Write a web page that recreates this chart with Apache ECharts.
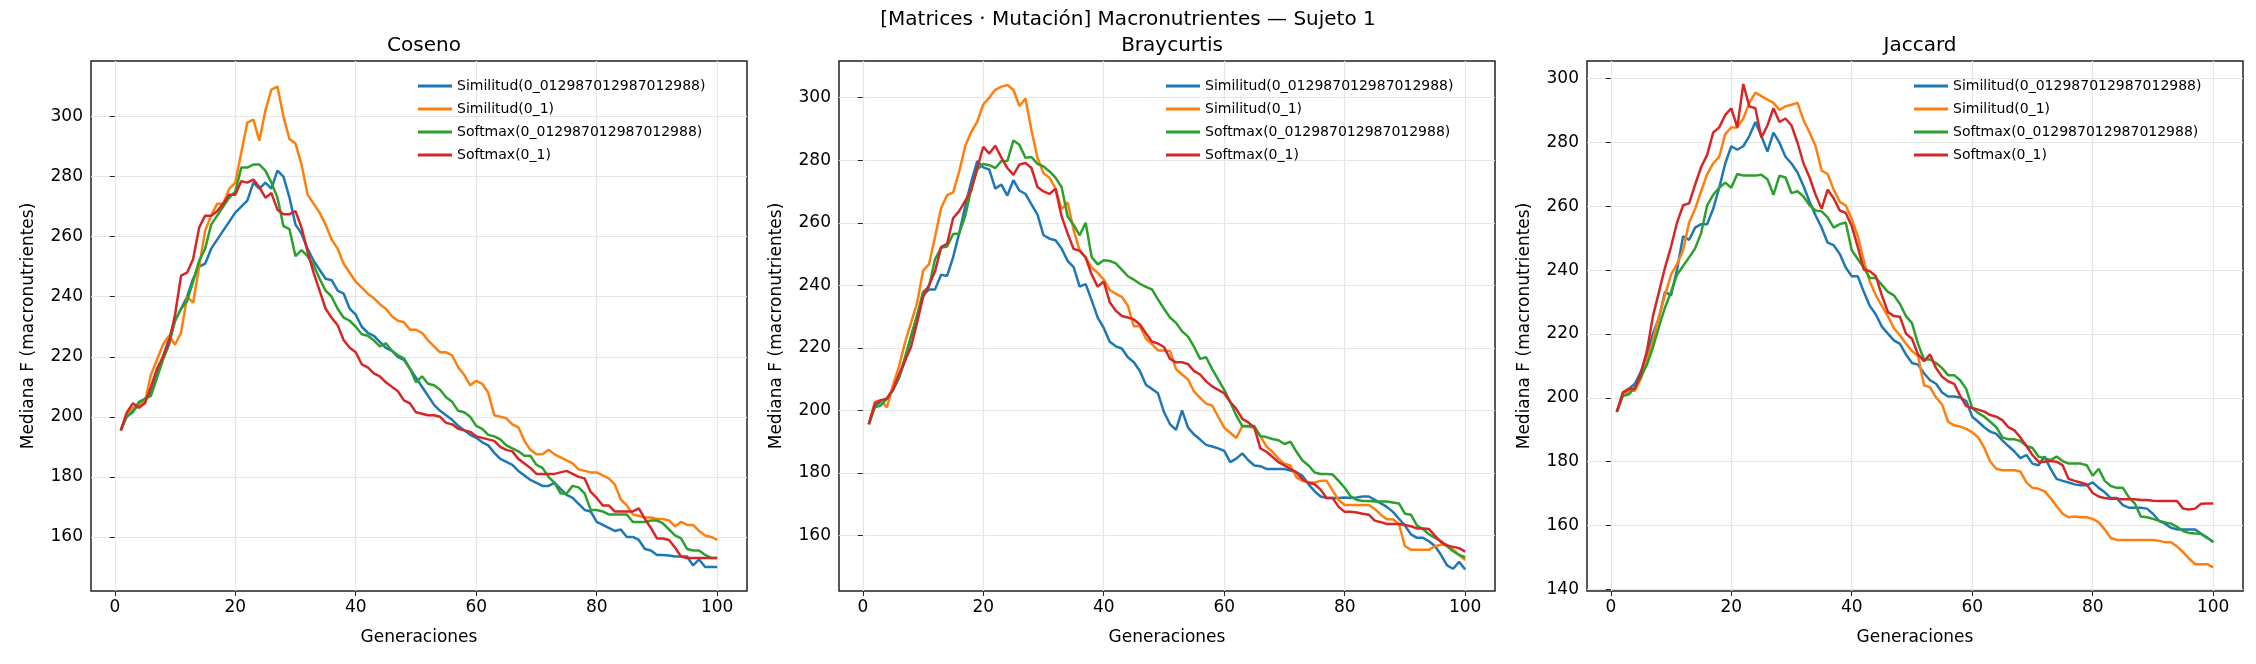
<!DOCTYPE html>
<html>
<head>
<meta charset="utf-8">
<script src="https://cdn.jsdelivr.net/npm/echarts@6/dist/echarts.min.js"></script>
<style>html,body{margin:0;padding:0;background:#fff}#myChart{width:2256px;height:664px}</style>
</head>
<body>
<div id="myChart"></div>
<script>
var gens = [];
for (var i = 1; i <= 100; i++) gens.push(i);

var seriesNames = ['Similitud(0_012987012987012988)', 'Similitud(0_1)', 'Softmax(0_012987012987012988)', 'Softmax(0_1)'];
var colors = ['#1f77b4', '#ff7f0e', '#2ca02c', '#d62728'];
var panelTitles = ['Coseno', 'Braycurtis', 'Jaccard'];
var xTicks = [0, 20, 40, 60, 80, 100];
var yTicksByPanel = [
	[160, 180, 200, 220, 240, 260, 280, 300],
	[160, 180, 200, 220, 240, 260, 280, 300],
	[140, 160, 180, 200, 220, 240, 260, 280, 300]
];

// Coseno
var cosSim013 = [195.5,201,202,204,206,208,214,220,226,232,236,240,246,250,251,256,259,262,265,268,270,272,278,276,278,276,282,280,273,264,261,256,252,249,246,245.5,242,241,236,234,230,228,227,225,223,222,220,219,216,213,210,207,204,202,200.5,199,197,195.5,194,193,191.5,190.5,188,186,185,184,182,180.5,179,178,177,177,178,176,174,173,171,169,168.5,165,164,163,162,162.5,160,160,159,156,155.5,154,154,153.8,153.5,153.5,153.5,150.5,152.5,150,150,150];
var cosSim01 = [195.5,201,203,204,205,214,219,224,227,224,228,240,238,250,262,267,271,271,276,278,288,298,299,292,302,309,310,300,292.5,291,284,274,271,268,264,259,256,251,248,245,243,241,239.5,237.5,236,233.5,232,231.5,229,229,228,225.5,223.5,221.5,221.5,220.5,216.5,214,210.5,212,211,208,200.5,200,199.5,197.5,196.5,192,189,187.5,187.5,189,187.5,186.5,185.5,184.5,182.5,182,181.5,181.5,180.5,179.5,177.5,172.5,170.5,167.5,167,166.5,166.5,166,166,165.5,163.5,165,164,164,162,160.5,160,159];
var cosSoft013 = [195.5,200,201.5,205,206,207,213,219,224,232,236,238.5,245,252,256,264,267,270,273,275,283,283,284,284,282,278,273,263.5,262.5,253.5,255.5,253.5,250.5,246,242,240,236,233,232,230,227.5,227,225.5,223.5,224.5,222,220.5,219.5,216,211.5,213.5,211,210.5,209,206.5,205,202,201.5,200,197,196,194,193.5,192.5,190.5,189.5,188.5,187,187,184,183,180,178,174.5,174.5,177,176.5,174.5,169,169,168.5,167.5,167.5,167.5,167.5,165,165,165,165.5,165.5,164.5,162.5,160.5,159.5,156,155.5,155.5,154,153,153];
var cosSoft01 = [195.5,201.5,204.5,203,204.5,210,216,220,225,234,247,248,252.5,263,267,267,268.5,271,274,274,278.5,278,279,276.5,273,274.5,269,267.5,267.5,268.5,263,255,248,242,236,233,230.5,225.5,223,221.5,217.5,216.5,214.5,213.5,211.5,210,208.5,205.5,204.5,201.5,201,200.5,200.5,200,198,197.5,196,195.5,195,193.5,193,192.5,192,190,189,188.5,186,184.5,183,181,181,181,181,181.5,182,181,180,179.5,175,173,170.5,170.5,168.5,168.5,168.5,168.5,169.5,166,163,159.5,159.5,159,156.5,153.5,153,153,153,153,153,153];

// Braycurtis
var braySim013 = [195.6,201.6,202.7,203.8,206.6,210.4,215.9,223.6,230.2,236.8,238.7,238.7,243.4,243,249,256.6,265.3,273.1,279.7,277.7,277,270.9,272.2,268.7,273.6,270.3,269.2,265.9,262.6,256,254.9,254.4,251.8,247.8,245.8,239.6,240.4,235.2,229.7,226.4,222,220.5,219.8,217,215.4,212.6,208.2,206.9,205.5,199.5,195.6,193.8,200,194.5,192.3,190.7,189,188.5,187.9,187.1,183.5,184.6,186.3,184.1,182.4,182.2,181.3,181.3,181.3,181.3,180.8,180.2,179.1,176.4,174.2,172.5,172,172,172,172.2,172,172.2,172.5,172.5,171.4,170.3,169.2,167.6,165.4,163.2,160.4,159.3,159.3,158.2,156.6,153.8,150.5,149.4,151.6,149.2];
var braySim01 = [195.6,202.7,203.3,201,208,214,221.6,228,234.2,244.6,246.8,255.5,264.7,268.8,269.7,276.3,284.5,289,292.3,297.8,300,302.5,303.5,304,302.5,297.3,299.7,289.6,280.8,275.8,274.4,270.9,264.3,266.5,257.7,251.1,248.9,245.6,244,241.8,238.5,237.3,236.3,233.5,226.9,226.9,223,221.2,219.2,219.2,219,213.2,211.5,209.9,206,204,202.2,201.6,198,194.5,192.9,191.2,195,194.8,194.5,191.8,188.5,186.8,184.6,183,182.4,178.6,177.5,177,177,177.5,177.5,174.4,171.4,169.8,169.8,169.8,169.8,169.8,168.5,166.7,165.2,165.2,163.7,156.6,155.5,155.5,155.5,155.5,156.6,157.1,157.1,155.5,153.8,152.2];
var braySoft013 = [195.6,201,201.6,203.8,206.6,210.4,217,223.6,230.2,237.9,239.6,248.4,252,252.4,256.4,256.6,262.1,270.9,277,278.8,278.4,277.5,279.7,279.7,286.3,284.9,280.8,281,278.8,278,276.4,274.4,271.4,262,259.3,256,260,249,246.7,248,247.8,247,245,242.9,241.8,240.5,239.5,238.7,235.5,232.5,229.7,228,225.3,223.6,220.3,216.5,217,213.2,209.9,206.6,202.7,198.4,195,195,195,191.8,191.5,190.9,190.5,189.3,190,186.8,184,182.4,180.2,179.7,179.7,179.5,177.5,175.3,172.5,171.4,171.1,171.1,170.9,170.9,170.9,170.6,170.3,167,166.7,163.2,162.1,160.4,159.3,158.2,156.6,155,153.8,153.1];
var braySoft01 = [195.6,202.2,203.3,203.8,206.6,211.5,215.9,220.3,228,236.3,240.1,244.5,252.2,253.3,261.5,263.7,267,270.3,277.5,284.3,282.1,284.6,280.8,277.5,275.3,278.6,279.1,277.5,271.4,270,269.2,270.9,262.1,256.6,251.6,251.1,248.9,243.4,239.6,241.2,234.6,231.9,230.2,229.7,229.1,227.5,224.7,222,221.4,220.3,216.5,215.4,215.4,214.8,212.6,211.5,209.3,207.7,206.6,205.5,202.7,200.5,197.3,196.2,194.5,187.9,186.8,185.2,183.5,182.4,181.3,180.2,178,176.9,176.4,174.7,172,172,169.2,167.6,167.6,167.4,167,166.7,164.8,164.3,163.7,163.7,163.7,163.4,163,162.3,162.3,162.1,159.9,157.9,156.8,156.4,156,154.9];

// Jaccard
var jacSim013 = [195.6,201.1,202.8,204.4,208.2,213.6,220.1,225,233.2,232.1,240.2,250.6,249.5,253.3,254.4,254.4,259.2,265.8,273.4,278.8,277.7,278.8,282,286.4,282,277.1,283.1,279.9,275.5,273.4,270.6,266.3,261.4,257.1,253.3,248.6,247.8,245.1,240.8,238.1,238.1,233.2,228.8,226.1,222.3,220.1,218,216.9,213.6,210.9,210.4,207.7,205.5,204.4,201.7,200.4,200.4,200.1,199,194.1,192.5,190.8,189.4,188.7,186.7,184.9,183.2,181.1,182.1,179.4,178.9,181.6,177.8,174.6,174,173.5,172.9,172.6,172.6,173.5,171.8,170.4,168.6,168.6,166.4,165.6,165.6,165.6,165.3,163.7,161.5,160.6,159.3,158.8,158.8,158.8,158.8,157.4,156.1,155];
var jacSim01 = [195.6,200.6,202.2,202.2,206,211.5,218,225.6,232.1,238.6,241.9,246.2,254.9,259.2,264.7,270.1,273.4,275.5,282.6,284.7,284.7,287.5,292.4,295.6,294.5,293.4,292.4,290.2,291.3,291.8,292.4,286.9,283.1,278.8,271.2,270.1,265.2,261.4,260.3,256,250.6,243,236.4,232.1,228.8,225.6,221.8,219.6,216.9,214.7,213.1,203.9,203.3,200.1,197.9,192.5,191.4,191,190.3,189.2,187.6,184.3,180,177.8,177.3,177.3,177.3,176.9,173.5,171.8,171.5,170.8,168.6,166.1,163.7,162.6,162.8,162.6,162.6,162.1,161,158.8,156.1,155.5,155.5,155.5,155.5,155.5,155.5,155.5,155.2,154.8,154.8,153.4,151.7,149.6,147.9,147.9,147.9,146.9];
var jacSoft013 = [195.6,200.6,201.1,203.3,206.6,210.4,215.8,222.3,228.3,233.2,238.6,241.3,244,246.8,251.6,260.3,263.6,265.8,267.4,265.8,270.1,269.6,269.6,269.6,269.9,268.5,263.6,269.6,269,264.1,264.7,263,260.3,258.7,258.4,256.5,253.3,254.4,254.9,246.2,243.5,240.8,237.5,237.5,235.4,233.2,232.1,229.4,225.6,223.4,216.9,212,212,210.9,209.3,207.1,207.1,205.5,202.8,196.8,195.2,194.1,192.5,190.8,187.6,187,187,186.5,184.9,184.3,181.6,181.1,180.5,181.6,180.2,179.4,179.4,179.4,178.9,175.6,177.8,174,172.4,171.8,171.8,168.9,166.9,162.8,162.6,162.1,161.5,161,160.6,159.6,158.3,157.7,157.5,157.4,156.3,154.8];
var jacSoft01 = [195.6,201.7,202.8,202.8,207.7,214.7,225.6,233.2,240.8,247.3,254.9,260.3,260.9,266.8,272.3,276.1,283.1,284.7,288.6,290.7,284.7,298.3,291.3,290.7,281.5,285.3,290.7,286.4,287.5,285.3,279.9,273.4,269,263.6,259.2,265.2,262.5,258.7,257.9,253.8,247.3,240.2,239.7,238.1,232.1,226.9,225.6,225.4,220.1,218.5,213.6,211.5,213.6,209.3,206.6,205.2,204.4,200.6,197.4,196.8,196.3,195.7,194.6,194.1,193,190.8,189.8,187.6,184.9,182.1,180,180,180.2,180,178.9,174.6,174,173.5,172.9,170.2,169.1,168.6,168.4,168.4,168.2,168.2,168.2,168,168,167.8,167.7,167.7,167.7,167.7,165.3,165,165.3,166.8,166.9,166.9];

var panelData = [
	[cosSim013, cosSim01, cosSoft013, cosSoft01],
	[braySim013, braySim01, braySoft013, braySoft01],
	[jacSim013, jacSim01, jacSoft013, jacSoft01]
];
var yRanges = [[142, 318.5], [142.3, 311.7], [139.5, 305.5]];

var font = 'DejaVu Sans';
var panelLeft = [91, 839, 1587];
var panelWidth = 656;
var panelTop = 61;
var panelHeight = 530;

var grids = [], xAxes = [], yAxes = [], series = [], legends = [], titles = [];
titles.push({
	text: '[Matrices · Mutación] Macronutrientes — Sujeto 1',
	left: 'center', top: 5,
	textStyle: {fontFamily: font, fontSize: 20, fontWeight: 'normal', color: '#000'}
});
for (var p = 0; p < 3; p++) {
	grids.push({left: panelLeft[p], top: panelTop, width: panelWidth, height: panelHeight,
		show: true, borderColor: '#222', borderWidth: 1.5, backgroundColor: 'transparent'});
	titles.push({
		text: panelTitles[p], left: panelLeft[p] + panelWidth / 2, top: 31, textAlign: 'center',
		textStyle: {fontFamily: font, fontSize: 20, fontWeight: 'normal', color: '#000'}
	});
	xAxes.push({
		type: 'value', gridIndex: p, min: -3.95, max: 104.95,
		name: 'Generaciones', nameLocation: 'middle', nameGap: 38,
		nameTextStyle: {fontFamily: font, fontSize: 17, color: '#000'},
		axisLine: {show: false},
		axisTick: {show: true, length: 5, customValues: xTicks, lineStyle: {color: '#222'}},
		axisLabel: {customValues: xTicks, fontFamily: font, fontSize: 17, color: '#000', margin: 8},
		splitLine: {show: true, lineStyle: {color: '#e6e6e6', width: 1.2}}
	});
	yAxes.push({
		type: 'value', gridIndex: p, min: yRanges[p][0], max: yRanges[p][1],
		name: 'Mediana F (macronutrientes)', nameLocation: 'middle', nameGap: 54,
		nameTextStyle: {fontFamily: font, fontSize: 17, color: '#000'},
		axisLine: {show: false},
		axisTick: {show: true, length: 5, customValues: yTicksByPanel[p], lineStyle: {color: '#222'}},
		axisLabel: {customValues: yTicksByPanel[p], fontFamily: font, fontSize: 17, color: '#000', margin: 8},
		splitLine: {show: true, lineStyle: {color: '#e6e6e6', width: 1.2}}
	});
	for (var s = 0; s < 4; s++) {
		var vals = panelData[p][s];
		series.push({
			type: 'line', name: seriesNames[s], xAxisIndex: p, yAxisIndex: p,
			showSymbol: false, animation: false,
			lineStyle: {color: colors[s], width: 2.5}, itemStyle: {color: colors[s]},
			data: vals.map(function (v, k) { return [gens[k], v]; })
		});
	}
	legends.push({
		orient: 'vertical', left: panelLeft[p] + 322, top: 74,
		itemWidth: 34, itemHeight: 3, itemGap: 9, icon: 'rect',
		textStyle: {fontFamily: font, fontSize: 14, color: '#000'},
		data: seriesNames
	});
}

var option = {
	backgroundColor: '#fff',
	animation: false,
	title: titles,
	legend: legends,
	grid: grids,
	xAxis: xAxes,
	yAxis: yAxes,
	series: series
};
let myChart = echarts.init(document.getElementById('myChart'));
myChart.setOption(option);
</script>
</body>
</html>
